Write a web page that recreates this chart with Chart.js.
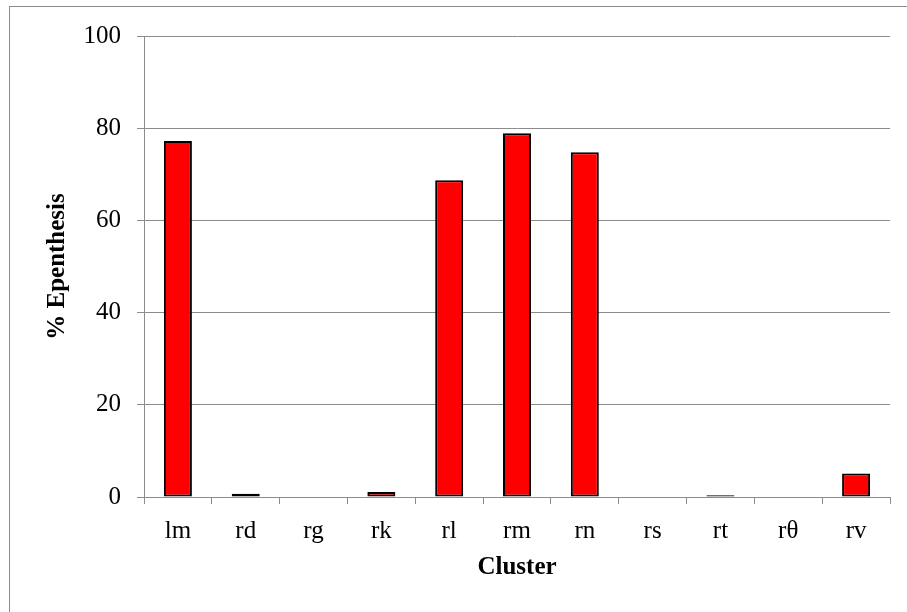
<!DOCTYPE html>
<html>
<head>
<meta charset="utf-8">
<script src="https://cdn.jsdelivr.net/npm/chart.js@4/dist/chart.umd.min.js"></script>
<style>
html,body{margin:0;padding:0;background:#fff;}
#wrap{width:907px;height:612px;position:relative;}
</style>
</head>
<body>
<div id="wrap"><canvas id="c" width="907" height="612"></canvas></div>
<script>
const categories = ["lm", "rd", "rg", "rk", "rl", "rm", "rn", "rs", "rt", "rθ", "rv"];
const epenthesis = [77.2, 0.7, 0, 1.1, 68.7, 78.9, 74.8, 0, 0.4, 0, 5.1];
const yTicks = [0, 20, 40, 60, 80, 100];

const FONT = "'Liberation Serif', 'Times New Roman', serif";
const GRID = '#8c8c8c';

const outerBorder = {
  id: 'outerBorder',
  afterDraw(chart) {
    const ctx = chart.ctx;
    ctx.save();
    ctx.strokeStyle = '#8c8c8c';
    ctx.lineWidth = 1;
    ctx.strokeRect(9.5, 6.5, 1000, 1000);
    ctx.restore();
  }
};

new Chart(document.getElementById('c'), {
  type: 'bar',
  data: {
    labels: categories,
    datasets: [{
      data: epenthesis,
      backgroundColor: '#ff0000',
      borderColor: '#000000',
      borderWidth: 2,
      borderSkipped: false,
      barPercentage: 0.413,
      categoryPercentage: 1
    }]
  },
  options: {
    responsive: false,
    animation: false,
    devicePixelRatio: 1,
    layout: { padding: { top: 36, right: 17, left: 0, bottom: 0 } },
    plugins: { legend: { display: false }, tooltip: { enabled: false } },
    scales: {
      x: {
        grid: { display: true, drawOnChartArea: false, drawTicks: true, tickLength: 7, color: GRID, offset: true },
        border: { display: true, color: GRID, width: 1, z: 1 },
        ticks: { color: '#000', font: { family: FONT, size: 25 }, padding: 12, maxRotation: 0, autoSkip: false },
        title: { display: true, text: 'Cluster', color: '#000', font: { family: FONT, size: 25, weight: 'bold' }, padding: { top: 0, bottom: 29 } },
        afterFit(scale) { scale.height = 115; }
      },
      y: {
        min: 0, max: 100,
        afterBuildTicks(scale) { scale.ticks = yTicks.map(v => ({ value: v })); },
        grid: { color: GRID, drawTicks: true, tickLength: 7, lineWidth: 1 },
        border: { display: true, color: GRID, width: 1 },
        ticks: { color: '#000', font: { family: FONT, size: 25 }, padding: 16 },
        title: { display: true, text: '% Epenthesis', color: '#000', font: { family: FONT, size: 25, weight: 'bold' }, padding: { top: 43, bottom: 0 } },
        afterFit(scale) { scale.width = 144; }
      }
    }
  },
  plugins: [outerBorder]
});
</script>
</body>
</html>
